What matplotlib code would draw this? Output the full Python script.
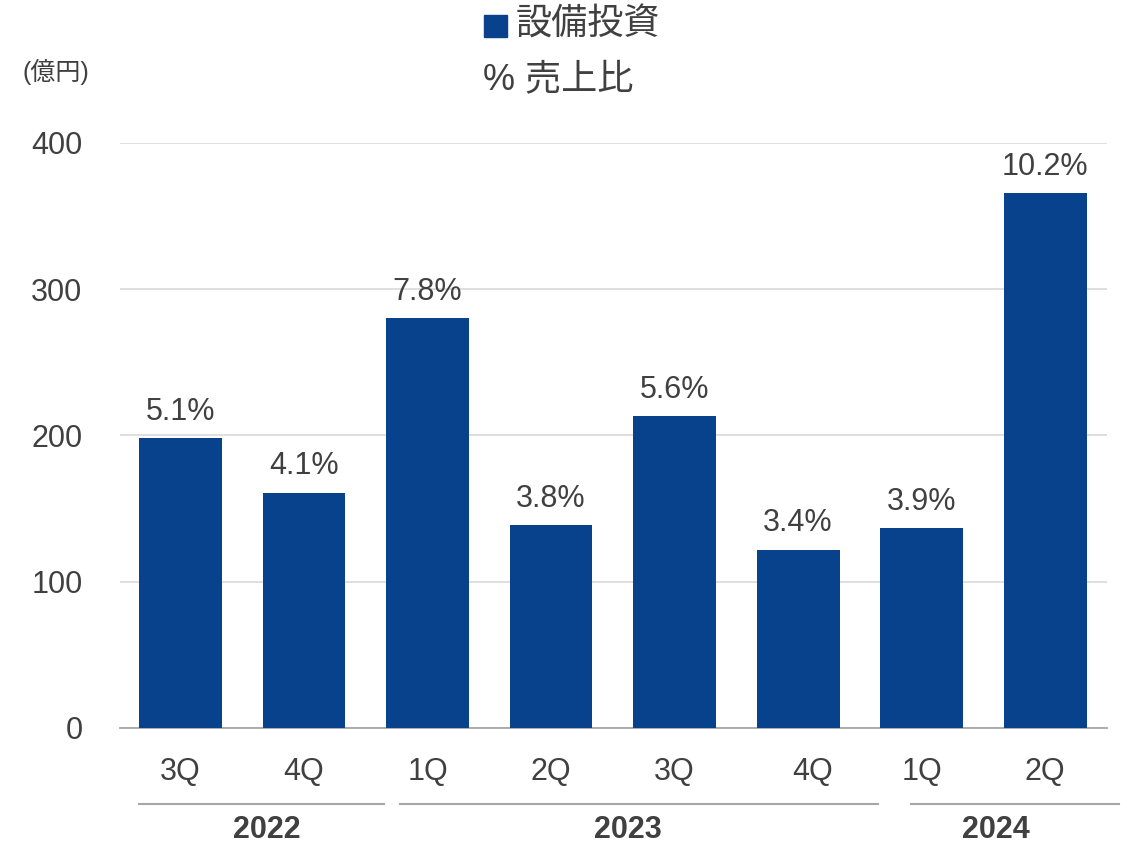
"""Capex by quarter (設備投資) with % of sales labels."""
import matplotlib

matplotlib.use("Agg")
import matplotlib.pyplot as plt

plt.rcParams["font.family"] = ["Liberation Sans", "Noto Sans CJK JP", "DejaVu Sans"]

QUARTERS = ["3Q", "4Q", "1Q", "2Q", "3Q", "4Q", "1Q", "2Q"]
CAPEX = [198, 161, 280, 139, 213, 122, 137, 366]
RATIO = ["5.1%", "4.1%", "7.8%", "3.8%", "5.6%", "3.4%", "3.9%", "10.2%"]
YEARS = ["2022", "2023", "2024"]
YEAR_SPANS = [(0, 1), (2, 5), (6, 7)]

BAR = "#08428c"
TXT = "#404040"

fig = plt.figure(figsize=(11.27, 8.46), dpi=100)
ax = fig.add_axes([0.1065, 0.1395, 0.8757, 0.6915])

x = list(range(len(CAPEX)))
bars = ax.bar(x, CAPEX, width=0.67, color=BAR, zorder=3)
for b, lab in zip(bars, RATIO):
    ax.annotate(lab, (b.get_x() + b.get_width() / 2, b.get_height()),
                xytext=(0, 8), textcoords="offset points", ha="center",
                va="bottom", fontsize=22, color=TXT, annotation_clip=False)

ax.set_xlim(-0.49, 7.5)
ax.set_ylim(0, 400)
ax.set_yticks([0, 100, 200, 300, 400])
ax.tick_params(axis="y", labelsize=22, labelcolor=TXT, length=0, pad=27)
ax.yaxis.grid(True, color="#d9d9d9", lw=1.2, zorder=0)
for s in ["top", "right", "left"]:
    ax.spines[s].set_visible(False)
ax.spines["bottom"].set_color("#a6a6a6")
ax.spines["bottom"].set_linewidth(1.3)

# quarter labels (the 2023 4Q sits a little right of its bar in the original)
ax.set_xticks([])
for i, q in enumerate(QUARTERS):
    dx = 0.12 if i == 5 else 0.0
    ax.text(i + dx, -30, q, ha="center", va="center", fontsize=22, color=TXT,
            clip_on=False)

# year brackets
line_ext = [(-0.34, 1.65), (1.78, 5.65), (5.91, 7.6)]
year_dx = [0.2, 0.12, 0.1]
for yr, (a, b), (l0, l1), dx in zip(YEARS, YEAR_SPANS, line_ext, year_dx):
    ax.plot([l0, l1], [-52, -52], color="#a6a6a6", lw=1.5, clip_on=False)
    ax.text((a + b) / 2 + dx, -70, yr, ha="center", va="center", fontsize=22,
            fontweight="bold", color=TXT, clip_on=False)

# legend-ish header
fig.patches.append(plt.Rectangle((484 / 1127, 1 - 37 / 846), 23 / 1127, 22 / 846,
                                 transform=fig.transFigure, color=BAR))
fig.text(516 / 1127, 1 - 25 / 846, "設備投資", fontsize=26, color=TXT,
         ha="left", va="center", family=["Noto Sans CJK JP"])
fig.text(483 / 1127, 1 - 80 / 846, "% 売上比", fontsize=26, color=TXT,
         ha="left", va="center", family=["Liberation Sans", "Noto Sans CJK JP"])
fig.text(22 / 1127, 1 - 72 / 846, "(億円)", fontsize=18, color=TXT,
         ha="left", va="center", family=["Liberation Sans", "Noto Sans CJK JP"])

fig.savefig("out.png", dpi=100)
